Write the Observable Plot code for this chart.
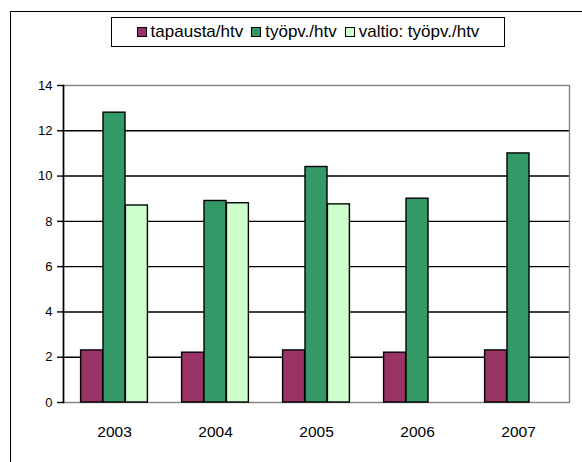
<!DOCTYPE html>
<html>
<head>
<meta charset="utf-8">
<script src="https://cdn.jsdelivr.net/npm/d3@7"></script>
<script src="https://cdn.jsdelivr.net/npm/@observablehq/plot@0.6"></script>
<style>
  html, body { margin: 0; padding: 0; width: 582px; height: 462px; overflow: hidden; background: #fff; font-family: "Liberation Sans", Arial, sans-serif; }
  #outer { position: absolute; left: 10px; top: 11px; width: 700px; height: 600px; border: 1.5px solid #000; box-sizing: border-box; }
  #legend { position: absolute; left: 111px; top: 17px; width: 394px; height: 30px; border: 1.5px solid #000; box-sizing: border-box; background: #fff;
            display: flex; align-items: center; justify-content: center; gap: 8px; font-size: 17px; color: #000; }
  .item { display: flex; align-items: center; gap: 4px; white-space: nowrap; }
  .sw { width: 8px; height: 8px; border: 1.4px solid #000; display: inline-block; }
  #chart { position: absolute; left: 0; top: 0; }
</style>
</head>
<body>
<div id="outer"></div>
<div id="chart"></div>
<div id="legend"></div>
<script>
const years = ["2003", "2004", "2005", "2006", "2007"];
const seriesNames = ["tapausta/htv", "työpv./htv", "valtio: työpv./htv"];
const seriesColors = ["#993366", "#339966", "#CCFFCC"];
const tapaustaHtv = [2.3, 2.2, 2.3, 2.2, 2.3];
const tyopvHtv = [12.8, 8.9, 10.4, 9.0, 11.0];
const valtioTyopvHtv = [8.7, 8.8, 8.75, null, null];
const yTicks = [0, 2, 4, 6, 8, 10, 12, 14];

const seriesValues = [tapaustaHtv, tyopvHtv, valtioTyopvHtv];
const data = [];
seriesNames.forEach((s, si) => years.forEach((y, yi) => {
  const v = seriesValues[si][yi];
  if (v != null) data.push({year: y, series: s, value: v});
}));

const barW = 22.4;
const offsets = [-barW, 0, barW];

const chart = Plot.plot({
  width: 582,
  height: 462,
  marginLeft: 63,
  marginRight: 13,
  marginTop: 85,
  marginBottom: 60,
  style: {background: "transparent", fontFamily: "'Liberation Sans', Arial, sans-serif", color: "#000", overflow: "visible"},
  x: {domain: years, paddingInner: 0.779, paddingOuter: 0.3895, label: null},
  y: {domain: [0, 14], label: null},
  marks: [
    Plot.ruleY(yTicks.filter(t => t > 0 && t < 14), {stroke: "#000", strokeWidth: 1.4}),
    Plot.frame({stroke: "#808080", strokeWidth: 1.4}),
    Plot.frame({anchor: "left", stroke: "#000", strokeWidth: 1.6}),
    ...seriesNames.map((s, i) => Plot.barY(data.filter(d => d.series === s), {
      x: "year", y: "value", fill: seriesColors[i], stroke: "#000", strokeWidth: 1.4, dx: offsets[i]
    })),
    Plot.axisY({ticks: yTicks, tickSize: 6, tickPadding: 5, fontSize: 13, stroke: "#000", strokeWidth: 1.4, label: null, tickFormat: d => String(d)}),
    Plot.axisX({tickSize: 0, tickPadding: 23, fontSize: 15.5, label: null})
  ]
});
document.getElementById("chart").appendChild(chart);

const legend = document.getElementById("legend");
seriesNames.forEach((s, i) => {
  const item = document.createElement("span");
  item.className = "item";
  const sw = document.createElement("span");
  sw.className = "sw";
  sw.style.background = seriesColors[i];
  const t = document.createElement("span");
  t.textContent = s;
  item.appendChild(sw);
  item.appendChild(t);
  legend.appendChild(item);
});
</script>
</body>
</html>
